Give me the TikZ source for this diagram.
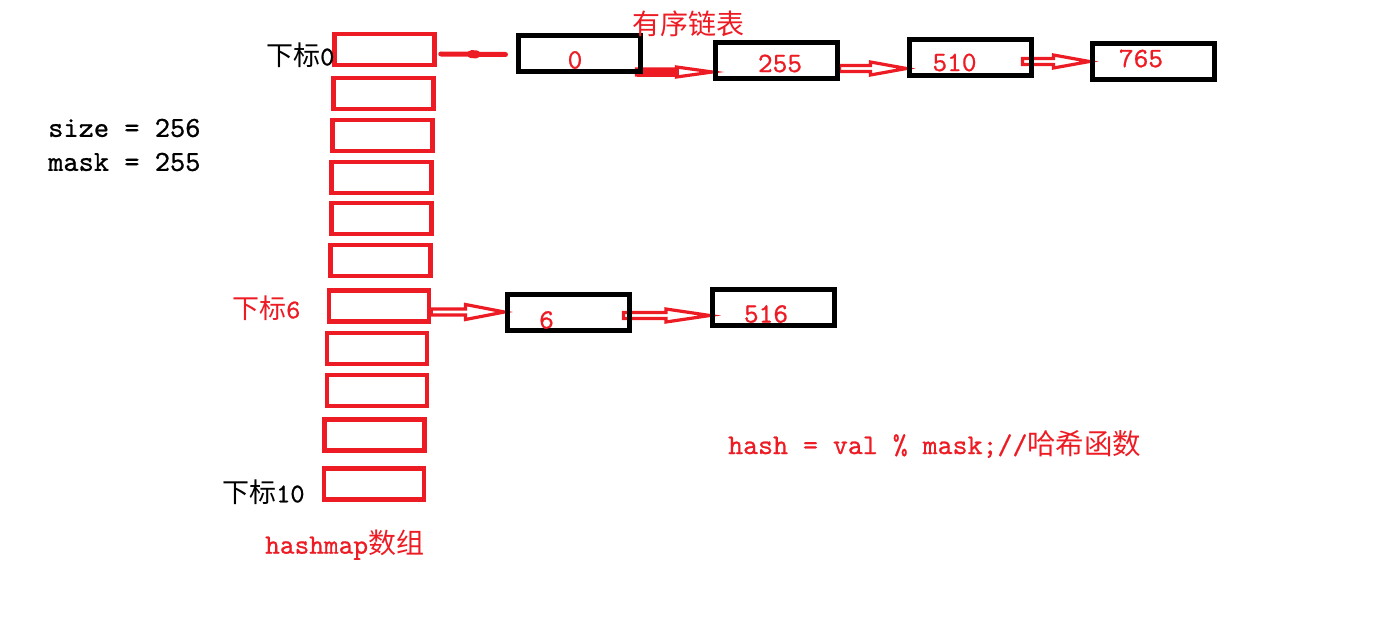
\documentclass[tikz,border=0pt]{standalone}
\usepackage{fontspec}
\setmonofont{lmmono10-regular.otf}[FakeBold=0.8]
\newfontfamily\cjk{Noto Sans CJK SC}
\usetikzlibrary{calc,backgrounds}
\definecolor{pred}{HTML}{ED1C24}
\begin{document}
\begin{tikzpicture}[x=1pt,y=-1pt,
  cell/.style={draw=pred, line width=4.5pt, minimum width=100pt, minimum height=31pt, inner sep=0pt},
  listbox/.style={draw=black, line width=5pt, minimum width=122pt, minimum height=36pt, inner sep=0pt},
  num/.style={text=pred, inner sep=0pt, font=\fontsize{28}{30}\selectfont\ttfamily},
  lbl/.style={inner sep=0pt, anchor=west, font=\fontsize{27}{30}\selectfont},
  harrow/.style 2 args={draw=pred, line width=3.2pt, fill=white, line join=miter,
    to path={let \p1=(\tikztostart), \p2=(\tikztotarget) in
      (\x1,\y2+3pt) -- (\x2-#1pt,\y2+3pt) -- (\x2-#1pt,\y2+#2pt) -- (\x2,\y2)
      -- (\x2-#1pt,\y2-#2pt) -- (\x2-#1pt,\y2-3pt) -- (\x1,\y2-3pt) -- cycle}},
  solidarrow/.style={draw=pred, line width=5pt, line cap=round}
]
\useasboundingbox (0,0) rectangle (1379,620);

% array cells
\node[cell] (c1) at (384.5,49.5) {};
\node[cell] (c2) at (383.5,93.5) {};
\node[cell] (c3) at (382.5,135.5) {};
\node[cell] (c4) at (381.5,177.5) {};
\node[cell] (c5) at (381.5,218.5) {};
\node[cell] (c6) at (380.5,260.5) {};
\node[cell] (c7) at (379,306) {};
\node[cell] (c8) at (377,348.5) {};
\node[cell] (c9) at (377,390.5) {};
\node[cell] (c10) at (374.5,435) {};
\node[cell] (c11) at (374,484) {};

% list boxes
\node[listbox] (b0) at (579,54) {};
\node[listbox] (b255) at (776,61) {};
\node[listbox] (b510) at (970,58) {};
\node[listbox] (b765) at (1153,61.5) {};
\node[listbox] (b6) at (568,313) {};
\node[listbox] (b516) at (773.5,307.5) {};

% numbers
\node[num] (n0) at (575,60) {0};
\node[num] (n255) at (780,63.5) {255};
\node[num] (n510) at (954.5,62.5) {510};
\node[num] (n765) at (1141,58.5) {765};
\node[num] (n6) at (546.5,320) {6};
\node[num] (n516) at (766,314) {516};

% labels
\node[lbl] (l0) at (266,55) {{\cjk 下标}{\ttfamily 0}};
\node[lbl, text=pred] (l6) at (232,308) {{\cjk 下标}{\ttfamily 6}};
\node[lbl] (l10) at (222,492) {{\cjk 下标}{\ttfamily 10}};
\node[lbl, text=pred, font=\fontsize{28}{30}\selectfont] (lh) at (265,545) {{\ttfamily hashmap}{\cjk 数组}};
\node[inner sep=0pt, text=pred, font=\fontsize{28}{30}\selectfont\cjk] (title) at (688,24) {有序链表};
\node[lbl, font=\fontsize{29}{30}\selectfont\ttfamily] (size) at (48,128) {size = 256};
\node[lbl, font=\fontsize{29}{30}\selectfont\ttfamily] (mask) at (48,162) {mask = 255};
\node[lbl, text=pred, font=\fontsize{28.5}{30}\selectfont] (hashf) at (728,444) {{\ttfamily hash = val \% mask;//}{\cjk 哈希函数}};

% connectors
\begin{pgfonlayer}{background}
\coordinate (a1s) at ([yshift=-4.5pt,xshift=4pt]c1.east);
\coordinate (a1e) at ([xshift=-10pt,yshift=-0.5pt]b0.west);
\draw[solidarrow] (a1s) -- (a1e);
\draw[pred, line width=8pt, line cap=round] ($(a1s)!0.47!(a1e)$) -- ($(a1s)!0.55!(a1e)$);

\coordinate (a2s) at ([yshift=-19pt,xshift=-6pt]b0.east);
\coordinate (a2e) at ([yshift=-11pt]b255.west);
\draw[harrow={36}{5}] (a2s) to (a2e);
\draw[pred, line width=8pt] (a2s) -- ([xshift=-34pt,yshift=-1pt]a2e);

\draw[harrow={36}{6.5}] ([yshift=-7.5pt]b255.east) to ([yshift=-10.5pt]b510.west);
\draw[harrow={36}{6.5}] ([yshift=-3.5pt,xshift=-11pt]b510.east) to (b765.west);
\draw[harrow={39}{7.5}] ([yshift=-6pt]c7.east) to ([yshift=1pt]b6.west);
\draw[harrow={44}{6.5}] ([yshift=-2.5pt,xshift=-8pt]b6.east) to ([yshift=-8pt]b516.west);
\end{pgfonlayer}
\end{tikzpicture}
\end{document}
